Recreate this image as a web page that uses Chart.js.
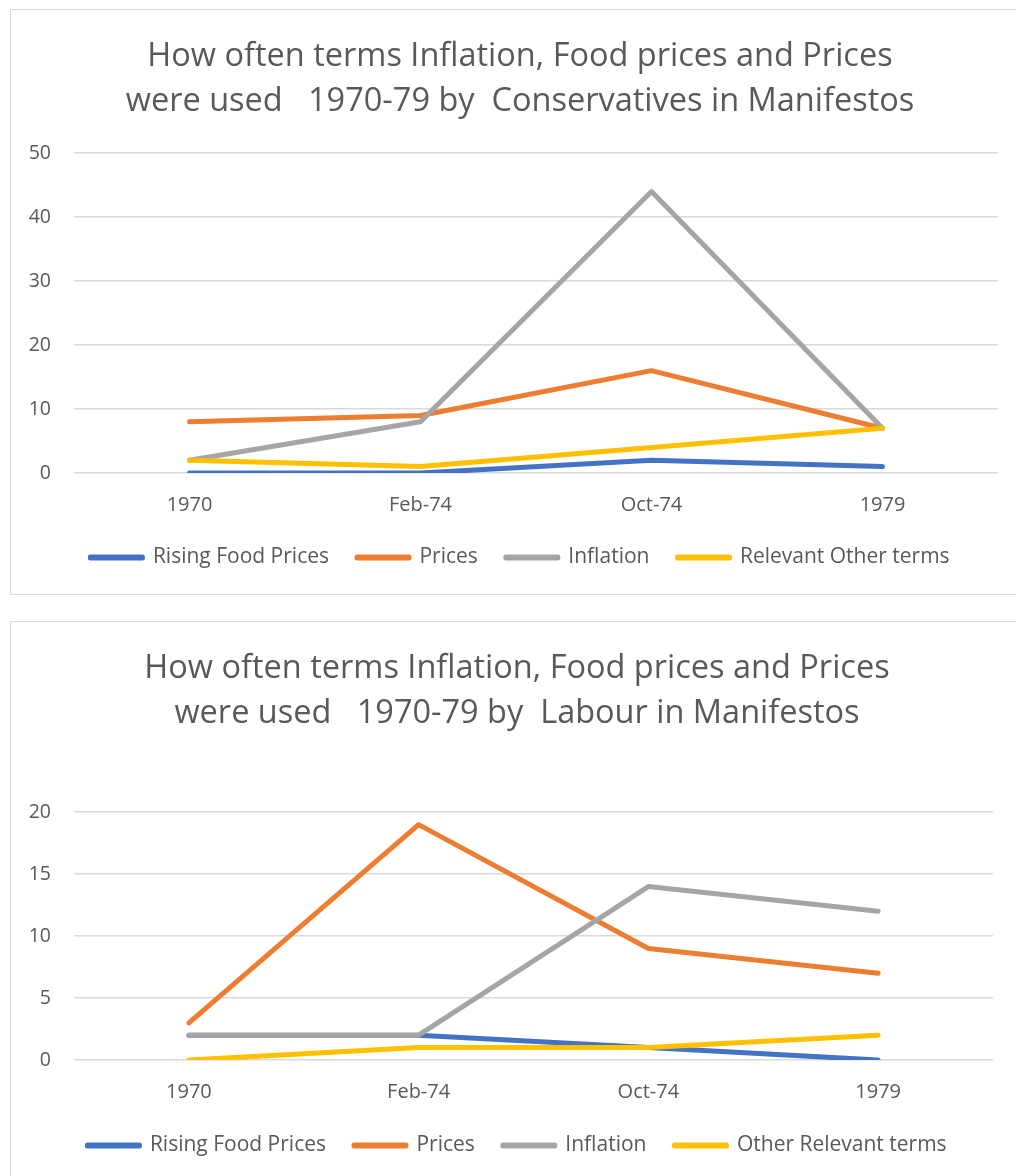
<!DOCTYPE html>
<html>
<head>
<meta charset="utf-8">
<script src="https://cdn.jsdelivr.net/npm/chart.js@4.4.1/dist/chart.umd.min.js"></script>
<style>
  body { margin: 0; background: #fff; }
  .box { position: absolute; left: 10px; width: 1010px; border: 1px solid #d9d9d9; box-sizing: border-box; }
  #box1 { top: 9px; height: 586px; }
  #box2 { top: 621px; height: 600px; }
  canvas { display: block; }
</style>
</head>
<body>
<div class="box" id="box1"><canvas id="conChart"></canvas></div>
<div class="box" id="box2"><canvas id="labChart"></canvas></div>

<script>
"use strict";

const elections = ["1970", "Feb-74", "Oct-74", "1979"];

// Conservatives
const conFoodPrices = [0, 0, 2, 1];
const conPrices = [8, 9, 16, 7];
const conInflation = [2, 8, 44, 7];
const conOther = [2, 1, 4, 7];

// Labour
const labFoodPrices = [2, 2, 1, 0];
const labPrices = [3, 19, 9, 7];
const labInflation = [2, 2, 14, 12];
const labOther = [0, 1, 1, 2];

const FONT = "Open Sans";
const GREY_TEXT = "#595959";
const colours = ["#4472C4", "#ED7D31", "#A5A5A5", "#FFC000"];

function serie(label, data, i) {
    return {
        label: label,
        data: data,
        borderColor: colours[i],
        backgroundColor: colours[i],
        borderWidth: 5,
        borderCapStyle: "round",
        borderJoinStyle: "round",
        pointRadius: 0,
        tension: 0,
        order: 4 - i   // ultima serie disegnata sopra, come in Excel
    };
}

function creaGrafico(id, titolo, datasets, yMax, step, pad) {
    return new Chart(document.getElementById(id), {
        type: "line",
        data: { labels: elections, datasets: datasets },
        options: {
            responsive: true,
            maintainAspectRatio: false,
            animation: false,
            layout: { padding: { top: pad.top, right: pad.right, left: 17, bottom: pad.bottom } },
            plugins: {
                tooltip: { enabled: false },
                title: {
                    display: true,
                    text: titolo,
                    color: GREY_TEXT,
                    font: { family: FONT, size: 32.5, weight: "normal", lineHeight: 1.38 },
                    padding: { top: 0, bottom: pad.title }
                },
                legend: {
                    position: "bottom",
                    labels: {
                        color: GREY_TEXT,
                        font: { family: FONT, size: 21 },
                        boxWidth: 52,
                        boxHeight: 1,
                        padding: 28,
                        sort: (a, b) => a.datasetIndex - b.datasetIndex
                    }
                }
            },
            scales: {
                x: {
                    offset: true,
                    grid: { display: false, drawTicks: false },
                    border: { display: false },
                    ticks: { color: GREY_TEXT, font: { family: FONT, size: 20 }, padding: 20 },
                    afterFit: (scale) => { scale.height = pad.xh; }
                },
                y: {
                    min: 0,
                    max: yMax,
                    border: { display: false },
                    grid: { color: "#d9d9d9", lineWidth: 1.5, drawTicks: false },
                    ticks: { stepSize: step, color: GREY_TEXT, font: { family: FONT, size: 19.5 }, padding: 23 },
                    afterFit: (scale) => { scale.width = 46; }
                },
                // asse vuoto a destra: solo per centrare titolo e legenda come nell'originale
                spazio: {
                    position: "right",
                    grid: { display: false },
                    border: { display: false },
                    ticks: { display: false },
                    afterFit: (scale) => { scale.width = pad.extra; }
                }
            }
        }
    });
}

creaGrafico("conChart",
    ["How often terms Inflation, Food prices and Prices", "were used   1970-79 by  Conservatives in Manifestos"],
    [
        serie("Rising Food Prices", conFoodPrices, 0),
        serie("Prices", conPrices, 1),
        serie("Inflation", conInflation, 2),
        serie("Relevant Other terms", conOther, 3)
    ],
    50, 10, { top: 24.5, right: 7, bottom: 16, title: 29, extra: 14, xh: 46 });

creaGrafico("labChart",
    ["How often terms Inflation, Food prices and Prices", "were used   1970-79 by  Labour in Manifestos"],
    [
        serie("Rising Food Prices", labFoodPrices, 0),
        serie("Prices", labPrices, 1),
        serie("Inflation", labInflation, 2),
        serie("Other Relevant terms", labOther, 3)
    ],
    20, 5, { top: 24.5, right: 13, bottom: 54, title: 76, extra: 13, xh: 47 });
</script>
</body>
</html>
